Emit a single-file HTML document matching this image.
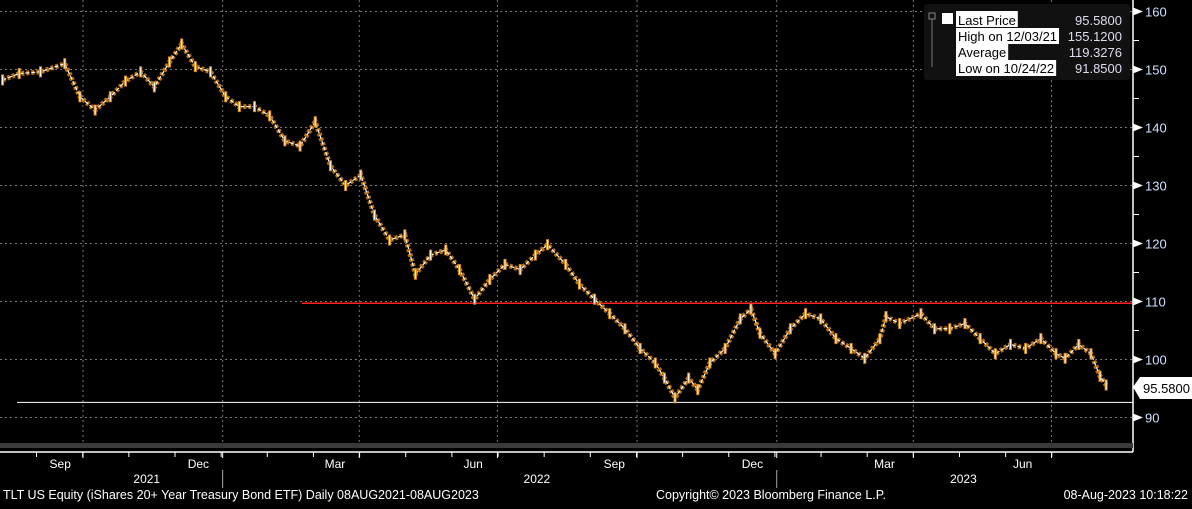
<!DOCTYPE html>
<html><head><meta charset="utf-8"><style>
html,body{margin:0;padding:0;background:#000;}
body{width:1192px;height:504px;overflow:hidden;font-family:"Liberation Sans",sans-serif;}
svg text{font-family:"Liberation Sans",sans-serif;}
</style></head><body>
<svg id="chart" width="1192" height="504" viewBox="0 0 1192 504" xmlns="http://www.w3.org/2000/svg">
<rect x="0" y="0" width="1192" height="504" fill="#000"/>
<g id="grid"></g>
<g id="marks"></g>
<g id="axis"></g>
<g id="xaxis"></g>
<g id="legend">
<rect x="924" y="4" width="206" height="76" rx="3" fill="#111"/>
<rect x="929" y="13" width="6" height="6" fill="none" stroke="#888" stroke-width="1"/>
<line x1="932" y1="19" x2="932" y2="67" stroke="#777" stroke-width="1"/>
<rect x="942" y="13" width="11" height="11" fill="#fff"/>
<rect class="lbg" x="956" y="11" width="63" height="16" fill="#fff"/><text class="lt" x="958" y="25" font-size="13" fill="#000">Last Price</text>
<text x="1122" y="25" font-size="13" fill="#dde" text-anchor="end">95.5800</text>
<rect class="lbg" x="956" y="28" width="88" height="16" fill="#fff"/><text class="lt" x="958" y="41" font-size="13" fill="#000">High on 12/03/21</text>
<text x="1122" y="41" font-size="13" fill="#dde" text-anchor="end">155.1200</text>
<rect class="lbg" x="956" y="44" width="84" height="16" fill="#fff"/><text class="lt" x="958" y="57" font-size="13" fill="#000">Average</text>
<text x="1122" y="57" font-size="13" fill="#dde" text-anchor="end">119.3276</text>
<rect class="lbg" x="956" y="60" width="84" height="16" fill="#fff"/><text class="lt" x="958" y="73" font-size="13" fill="#000">Low on 10/24/22</text>
<text x="1122" y="73" font-size="13" fill="#dde" text-anchor="end">91.8500</text>
</g>
<rect x="0" y="443" width="1133" height="5" fill="#3a3a3a"/>
<line x1="0" y1="452" x2="1133" y2="452" stroke="#fff" stroke-width="1.5"/>
<text x="3" y="499" font-size="12.5" fill="#fff">TLT US Equity (iShares 20+ Year Treasury Bond ETF)  Daily 08AUG2021-08AUG2023</text>
<text x="656" y="499" font-size="12.5" fill="#fff">Copyright© 2023 Bloomberg Finance L.P.</text>
<text x="1188" y="499" font-size="12.5" fill="#fff" text-anchor="end">08-Aug-2023 10:18:22</text>
</svg>
<script>
const days=[0,11,25,41,51,61,71,81,91,100,110,118,127,137,147,156,166,176,186,196,206,216,226,236,245,255,265,272,282,292,301,311,321,331,341,351,359,371,380,390,400,410,420,430,436,443,452,458,466,476,486,493,499,509,519,529,539,549,559,568,578,582,591,605,614,624,634,644,654,664,674,684,694,700,709,717,723,727];
const prices=[148.2,149.3,149.6,151,145.3,143,145.3,148,149.6,147,151.3,154.4,150.5,149.6,145.3,143.6,143.6,142,137.7,136.8,141,133.4,130,131.8,124.9,120.6,121.5,114.7,118,118.9,115.5,110.4,113.8,116.4,115.5,118,119.8,116.4,113,110.4,107.9,105.3,101.9,99.4,96.8,93.4,96.8,94.8,99.4,101.9,107,108.7,104.5,101,105.3,107.9,107,103.6,101.9,100.2,103.6,107.4,106.2,107.9,105.3,105.3,106.2,103.6,101,102.6,101.9,103.6,101,100.2,102.6,101,97.1,95.6];
const yTicks=[90,100,110,120,130,140,150,160];
const monthLabels=["Sep","Dec","Mar","Jun","Sep","Dec","Mar","Jun"];
const monthLabelDays=[38,129,219,310,403,494,581,672];
const gridDays=[53,145,235,326,418,510,600,691];
const yearLabels=["2021","2022","2023"];
const yearLabelDays=[95,352,633];
const resistance=109.7, lowLine=92.6, lastPrice="95.5800";
const NS="http://www.w3.org/2000/svg";
const X=d=>83+(d-53)*1.518;
const Y=v=>301.5-(v-110)*5.8;
function mk(t,a,p){const e=document.createElementNS(NS,t);for(const k in a)e.setAttribute(k,a[k]);p.appendChild(e);return e;}
const grid=document.getElementById('grid'),marks=document.getElementById('marks'),axis=document.getElementById('axis'),xa=document.getElementById('xaxis');
const bgs=document.querySelectorAll('.lbg'),lts=document.querySelectorAll('.lt');
lts.forEach((t,i)=>{bgs[i].setAttribute('width',t.getComputedTextLength()+4);});
yTicks.forEach(v=>{const l=mk('line',{x1:0,x2:1133,y1:Y(v),y2:Y(v),stroke:'#777','stroke-dasharray':'2,3','stroke-width':1},grid);


const t=mk('text',{x:1145,y:Y(v)+5,'font-size':13,fill:'#cfe0ff'},axis);t.textContent=v;


mk('polygon',{points:`1133,${Y(v)-4} 1143,${Y(v)} 1133,${Y(v)+4}`,fill:'#fff'},axis);
mk('line',{x1:1133,x2:1139,y1:Y(v+5),y2:Y(v+5),stroke:'#fff'},axis);});
gridDays.forEach(d=>{const l=mk('line',{x1:X(d),x2:X(d),y1:0,y2:443,stroke:'#777','stroke-dasharray':'2,3'},grid);

});
mk('line',{x1:1133,x2:1133,y1:0,y2:452,stroke:'#fff','stroke-width':1.5},axis);
const rl=mk('line',{x1:302,x2:1133,y1:Y(resistance),y2:Y(resistance),stroke:'#ff2020','stroke-width':1.5},marks);


const ll=mk('line',{x1:17,x2:1133,y1:Y(lowLine),y2:Y(lowLine),stroke:'#fff','stroke-width':1},marks);


let d='';days.forEach((dd,i)=>{const x=X(dd),y=Y(prices[i]);d+=(i==0?'M':'L')+x+','+y;});
mk('path',{d:d,fill:'none',stroke:'#b86e10','stroke-width':5,'stroke-dasharray':'3,2'},marks);
const pl=mk('path',{d:d,fill:'none',stroke:'#fff','stroke-width':1.2,'stroke-dasharray':'4,2'},marks);


days.forEach((dd,i)=>{const b=mk('rect',{x:X(dd)-1,y:Y(prices[i])-5,width:2,height:10,fill:'#fff',stroke:'#d98a1c','stroke-width':1},marks);

});
const ly=Y(prices[prices.length-1])+2;
const lb=mk('polygon',{points:`1133,${ly} 1140,${ly-10} 1192,${ly-10} 1192,${ly+12} 1140,${ly+12}`,fill:'#fff'},axis);


const lt=mk('text',{x:1143,y:ly+6,'font-size':13,fill:'#000'},axis);lt.textContent=lastPrice;
for(let m=0;m<24;m++){const dd=53+m*30.4-61;if(dd<0)continue;mk('line',{x1:X(dd),x2:X(dd),y1:452,y2:457,stroke:'#fff'},xa);}
gridDays.forEach(dd=>mk('line',{x1:X(dd),x2:X(dd),y1:452,y2:458,stroke:'#fff'},xa));
monthLabels.forEach((m,i)=>{const t=mk('text',{x:X(monthLabelDays[i]),y:468,'font-size':12,fill:'#fff','text-anchor':'middle'},xa);t.textContent=m;

});
yearLabels.forEach((m,i)=>{const t=mk('text',{x:X(yearLabelDays[i]),y:483,'font-size':12,fill:'#fff','text-anchor':'middle'},xa);t.textContent=m;

});
[145,510].forEach(dd=>mk('line',{x1:X(dd),x2:X(dd),y1:470,y2:488,stroke:'#aaa'},xa));
</script>
</body></html>
